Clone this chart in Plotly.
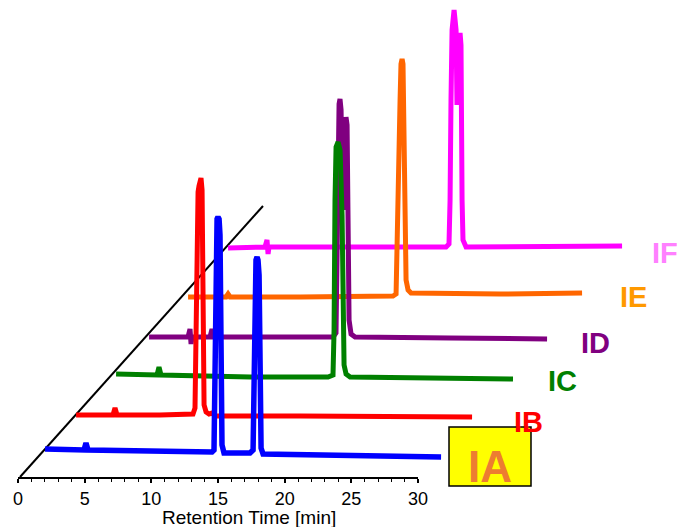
import plotly.graph_objects as go

W, H = 679, 527

# ---- chromatogram data: retention time [min], signal [a.u.] ----
ia_time = [2.03, 4.95, 5.10, 5.25, 9.90, 14.55, 14.70, 14.78, 14.85, 14.93, 15.00, 15.08, 15.15, 15.23,
           15.30, 15.45, 17.40, 17.63, 17.70, 17.78, 17.85, 17.93, 18.00, 18.08, 18.15, 18.23, 18.38,
           24.90, 31.73]
ia_signal = [0, -1, 6, -1, -2, -3, -1, 119, 214, 230, 232, 230, 214, 119,
             4, -4, -4, -1, 89, 174, 189, 192, 189, 174, 89, 1, -5,
             -6, -8]

ib_time = [2.03, 4.80, 4.95, 5.10, 8.33, 10.80, 10.95, 11.03, 11.10, 11.18, 11.25, 11.33, 11.40, 11.48,
           11.55, 11.63, 11.78, 12.00, 12.23, 12.45, 18.83, 31.73]
ib_signal = [0, 0, 7, 0, 0, 1, 7, 115, 215, 223, 229, 236, 237, 225,
             115, 10, 3, 1, 2, -1, -1, -2]

ic_time = [2.03, 5.10, 5.25, 5.40, 12.08, 17.93, 18.30, 18.38, 18.45, 18.53, 18.68, 18.83, 18.98,
           19.05, 19.13, 19.28, 19.58, 31.80]
ic_signal = [0, -1, 7, -1, -3, -3, -1, 44, 174, 227, 232, 224, 159,
             74, 9, 0, -3, -5]

id_time = [2.03, 4.95, 5.10, 5.18, 5.25, 6.60, 6.75, 6.90, 13.35, 15.83, 16.05, 16.13, 16.20, 16.28,
           16.35, 16.43, 16.50, 16.58, 16.65, 16.73, 16.80, 16.88, 16.95, 17.03, 17.18, 17.48, 24.60,
           31.88]
id_signal = [0, 0, 8, -7, 0, 0, 8, 0, 0, 0, 4, 87, 187, 233,
             238, 227, 167, 127, 177, 215, 220, 212, 87, 17, 3, 0, -1,
             -2]

ie_time = [2.03, 4.88, 5.03, 5.18, 10.43, 17.40, 17.63, 17.70, 17.78, 17.85, 17.93, 18.00, 18.08,
           18.15, 18.23, 18.30, 18.38, 18.53, 18.75, 25.43, 31.58]
ie_signal = [0, 0, 3, 0, 0, 1, 3, 57, 137, 157, 197, 233, 238,
             233, 177, 67, 17, 7, 4, 3, 4]

if_time = [2.03, 4.80, 4.95, 5.03, 5.10, 11.18, 18.38, 18.60, 18.68, 18.75, 18.83, 18.98, 19.13,
           19.20, 19.28, 19.43, 19.50, 19.58, 19.65, 19.88, 22.43, 31.58]
if_signal = [0, 1, 8, -6, 1, 1, 1, 4, 48, 148, 218, 238, 218,
             143, 188, 215, 203, 48, 8, 1, 1, 2]

series_names = ["IA", "IB", "IC", "ID", "IE", "IF"]
series_time = [ia_time, ib_time, ic_time, id_time, ie_time, if_time]
series_signal = [ia_signal, ib_signal, ic_signal, id_signal, ie_signal, if_signal]

x_ticks = [0, 5, 10, 15, 20, 25, 30]

# ---- styling / layout constants ----
line_colors = ["#0000FF", "#FF0000", "#008000", "#800080", "#FF6600", "#FF00FF"]
label_colors = ["#ED7D31", "#FF0000", "#008000", "#800080", "#FF9900", "#FF80FF"]
line_widths = [5.5, 5, 5, 5, 5, 5]
# pseudo-3D stacking offsets (time shift, signal shift)
offset_time = [0, 2.325, 5.325, 7.8, 10.725, 13.725]
offset_signal = [0, 34, 75, 112, 152, 201]
# label centres in pixels
label_px = [(490, 466), (528, 422), (562, 381), (595, 343), (633, 297), (665, 253)]

FONT = "Liberation Sans, Arial, sans-serif"
PX_PER_MIN = 400 / 30.0
X0_PX, AXIS_PX = 18, 477
BASE_PX = 449  # pixel row of IA baseline

fig = go.Figure()

# empty trace so that the visible time axis (x2/y2) is drawn
fig.add_trace(go.Scatter(x=[], y=[], xaxis="x2", yaxis="y2", mode="lines",
                         showlegend=False, hoverinfo="skip"))

# depth (diagonal) axis line
fig.add_trace(go.Scatter(
    x=[0.15, 18.375], y=[-28, 243], mode="lines",
    line=dict(color="black", width=2), hoverinfo="skip", showlegend=False,
))

for i in reversed(range(len(series_names))):
    fig.add_trace(go.Scatter(
        x=[t + offset_time[i] for t in series_time[i]],
        y=[s + offset_signal[i] for s in series_signal[i]],
        mode="lines", name=series_names[i],
        line=dict(color=line_colors[i], width=line_widths[i]),
        showlegend=False,
    ))

# data axes cover whole figure (hidden)
fig.update_layout(
    xaxis=dict(domain=[0, 1], range=[-X0_PX / PX_PER_MIN, (W - X0_PX) / PX_PER_MIN],
               visible=False, fixedrange=True),
    yaxis=dict(domain=[0, 1], range=[BASE_PX - H, BASE_PX], visible=False, fixedrange=True),
    xaxis2=dict(domain=[X0_PX / W, (X0_PX + 400) / W], range=[0, 30], anchor="y2",
                tickvals=x_ticks, ticktext=[str(v) for v in x_ticks],
                showline=True, linecolor="black", linewidth=2,
                ticks="outside", ticklen=4, tickwidth=1.5, tickcolor="black",
                minor=dict(dtick=1, ticks="outside", ticklen=3, tickwidth=1, tickcolor="black"),
                showgrid=False, zeroline=False, automargin=False, fixedrange=True,
                tickfont=dict(family=FONT, size=18, color="black")),
    yaxis2=dict(domain=[(H - AXIS_PX) / H, 1], range=[0, 1], anchor="x2", visible=False,
                fixedrange=True),
)

annotations = [dict(
    text="Retention Time [min]", xref="paper", yref="paper",
    x=249 / W, y=-0.004, xanchor="center", yanchor="bottom", showarrow=False,
    font=dict(family=FONT, size=19, color="black"), borderpad=0,
)]
for i, name in enumerate(series_names):
    px, py = label_px[i]
    annotations.append(dict(
        text="<b>%s</b>" % name, xref="paper", yref="paper",
        x=px / W, y=1 - py / H, xanchor="center", yanchor="middle", showarrow=False,
        font=dict(family=FONT, size=44 if name == "IA" else 29, color=label_colors[i]),
    ))

fig.update_layout(
    annotations=annotations,
    shapes=[dict(type="rect", xref="paper", yref="paper",
                 x0=449 / W, x1=531 / W, y0=1 - 486 / H, y1=1 - 427 / H,
                 fillcolor="#FFFF00", line=dict(color="black", width=1.5), layer="below")],
    width=W, height=H, autosize=False,
    margin=dict(l=0, r=0, t=0, b=0, pad=0),
    paper_bgcolor="white", plot_bgcolor="rgba(0,0,0,0)",
    template="none",
)

fig.write_html("out.html", config={"displayModeBar": False},
               post_script="document.body.style.margin='0';")
